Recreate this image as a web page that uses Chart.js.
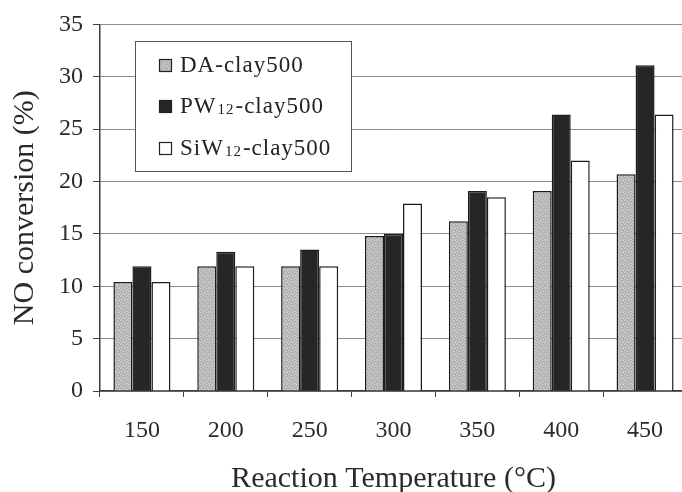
<!DOCTYPE html>
<html>
<head>
<meta charset="utf-8">
<script src="https://cdn.jsdelivr.net/npm/chart.js@4.4.1/dist/chart.umd.min.js"></script>
<style>
  html, body { margin: 0; padding: 0; background: #fff; overflow: hidden; }
  #wrap { width: 690px; height: 492px; }
</style>
</head>
<body>
<div id="wrap"><canvas id="noChart" width="690" height="492"></canvas></div>
<script>
// reaction temperatures (categories)
var temps = ['150', '200', '250', '300', '350', '400', '450'];

// NO conversion (%)
var daClay = [10.4, 11.9, 11.9, 14.8, 16.2, 19.1, 20.7];
var pwClay = [11.9, 13.3, 13.5, 15.0, 19.1, 26.4, 31.1];
var siwClay = [10.4, 11.9, 11.9, 17.9, 18.5, 22.0, 26.4];

// legend names, "_12" is drawn as a subscript
var seriesNames = ['DA-clay500', 'PW_12-clay500', 'SiW_12-clay500'];

var yTicks = [0, 5, 10, 15, 20, 25, 30, 35];

var SERIF = "'Liberation Serif', 'Times New Roman', serif";

// stippled grey like the scanned print
function stipple() {
  var c = document.createElement('canvas');
  c.width = 6; c.height = 6;
  var g = c.getContext('2d');
  g.fillStyle = '#bcbcbc';
  g.fillRect(0, 0, 6, 6);
  g.fillStyle = '#a2a2a2';
  [[0,0],[3,1],[1,3],[4,4],[5,2],[2,5]].forEach(function (p) { g.fillRect(p[0], p[1], 1, 1); });
  g.fillStyle = '#d2d2d2';
  [[2,0],[5,0],[0,2],[3,3],[1,5],[4,5]].forEach(function (p) { g.fillRect(p[0], p[1], 1, 1); });
  return g.createPattern(c, 'repeat');
}

var ctx = document.getElementById('noChart').getContext('2d');
var daFill = stipple();

// box legend with subscripts, drawn on top of the plot
var boxLegend = {
  id: 'boxLegend',
  afterDraw: function (chart) {
    var c = chart.ctx;
    c.save();
    c.fillStyle = '#fff';
    c.fillRect(135, 41, 216, 130);
    c.strokeStyle = '#555';
    c.lineWidth = 1;
    c.strokeRect(135.5, 41.5, 216, 130);
    var rowY = [65, 106, 148];
    chart.data.datasets.forEach(function (ds, i) {
      var y = rowY[i];
      c.fillStyle = ds.backgroundColor;
      c.fillRect(159, y - 6, 13, 13);
      c.strokeStyle = '#222';
      c.lineWidth = 1.2;
      c.strokeRect(159.5, y - 5.5, 12, 12);
      var x = 180;
      var parts = seriesNames[i].split(/(_\d+)/);
      c.fillStyle = '#222';
      c.textBaseline = 'middle';
      c.letterSpacing = '1px';
      parts.forEach(function (p) {
        if (!p) return;
        if (p.charAt(0) === '_') {
          c.font = '15px ' + SERIF;
          c.fillText(p.slice(1), x + 1, y + 4);
          x += c.measureText(p.slice(1)).width + 2;
        } else {
          c.font = '23px ' + SERIF;
          c.fillText(p, x, y + 1);
          x += c.measureText(p).width;
        }
      });
    });
    c.restore();
  }
};

var myChart = new Chart(ctx, {
  type: 'bar',
  data: {
    labels: temps,
    datasets: [
      { label: seriesNames[0], data: daClay, backgroundColor: daFill },
      { label: seriesNames[1], data: pwClay, backgroundColor: '#262626' },
      { label: seriesNames[2], data: siwClay, backgroundColor: '#ffffff' }
    ]
  },
  options: {
    responsive: false,
    animation: false,
    devicePixelRatio: 1,
    datasets: {
      bar: {
        borderColor: '#1c1c1c',
        borderWidth: 1.5,
        categoryPercentage: 0.68,
        barPercentage: 1.0
      }
    },
    layout: { padding: { top: 24, right: 3, left: 0, bottom: 0 } },
    plugins: {
      legend: { display: false },
      tooltip: { enabled: false }
    },
    scales: {
      x: {
        grid: {
          offset: true,
          drawOnChartArea: false,
          drawTicks: true,
          tickLength: 6,
          tickColor: '#444'
        },
        border: { color: '#3a3a3a', width: 1.5 },
        ticks: {
          color: '#2a2a2a',
          font: { family: SERIF, size: 24 },
          padding: 19
        },
        title: {
          display: true,
          text: 'Reaction Temperature (°C)',
          color: '#2a2a2a',
          font: { family: SERIF, size: 30, lineHeight: 0.8 },
          padding: { top: 0, bottom: 1 }
        },
        afterFit: function (s) { s.height = 101; }
      },
      y: {
        min: 0,
        max: 35,
        afterBuildTicks: function (s) {
          s.ticks = yTicks.map(function (v) { return { value: v }; });
        },
        grid: {
          color: '#8c8c8c',
          lineWidth: 1,
          tickLength: 7,
          tickColor: '#444'
        },
        border: { color: '#3a3a3a', width: 1.5 },
        ticks: {
          color: '#2a2a2a',
          font: { family: SERIF, size: 24 },
          padding: 10
        },
        title: {
          display: true,
          text: 'NO conversion (%)',
          color: '#2a2a2a',
          font: { family: SERIF, size: 30 },
          padding: { top: 7, bottom: 0 }
        },
        afterFit: function (s) { s.width = 100; }
      }
    }
  },
  plugins: [boxLegend]
});
</script>
</body>
</html>
